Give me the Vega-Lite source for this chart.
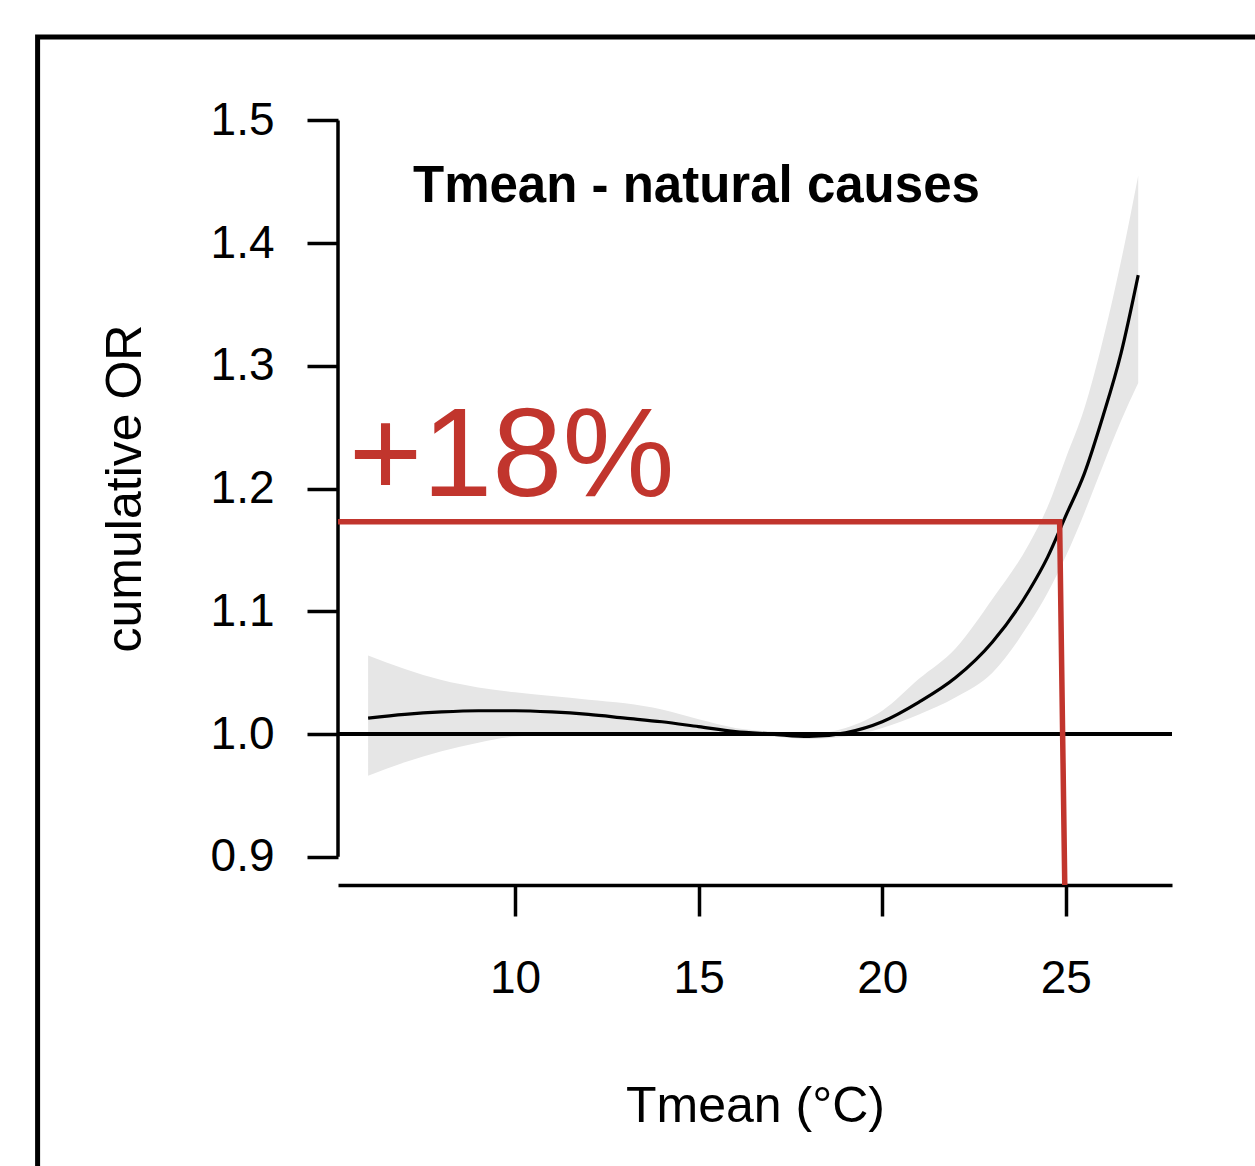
{
  "$schema": "https://vega.github.io/schema/vega-lite/v6.json",
  "width": 834,
  "height": 794,
  "autosize": "none",
  "padding": {"left": 338, "top": 91, "right": 83, "bottom": 281},
  "background": "white",
  "config": {"view": {"stroke": null}, "font": "Liberation Sans"},
  "datasets": {
    "curve": [
      {"x": 6.0, "est": 1.013, "lo": 0.966, "hi": 1.064},
      {"x": 7.0, "est": 1.016, "lo": 0.977, "hi": 1.053},
      {"x": 8.0, "est": 1.018, "lo": 0.986, "hi": 1.044},
      {"x": 9.0, "est": 1.019, "lo": 0.993, "hi": 1.038},
      {"x": 10.0, "est": 1.019, "lo": 0.998, "hi": 1.034},
      {"x": 11.0, "est": 1.018, "lo": 0.999, "hi": 1.031},
      {"x": 12.0, "est": 1.016, "lo": 1.0, "hi": 1.028},
      {"x": 13.0, "est": 1.013, "lo": 1.0, "hi": 1.025},
      {"x": 14.0, "est": 1.01, "lo": 1.0, "hi": 1.02},
      {"x": 15.0, "est": 1.006, "lo": 1.0, "hi": 1.012},
      {"x": 16.0, "est": 1.002, "lo": 0.999, "hi": 1.005},
      {"x": 17.0, "est": 1.0, "lo": 0.998, "hi": 1.002},
      {"x": 18.0, "est": 0.998, "lo": 0.996, "hi": 1.0},
      {"x": 19.0, "est": 1.001, "lo": 0.998, "hi": 1.005},
      {"x": 20.0, "est": 1.01, "lo": 1.005, "hi": 1.019},
      {"x": 21.0, "est": 1.026, "lo": 1.016, "hi": 1.045},
      {"x": 22.0, "est": 1.046, "lo": 1.03, "hi": 1.07},
      {"x": 23.0, "est": 1.075, "lo": 1.05, "hi": 1.11},
      {"x": 24.0, "est": 1.117, "lo": 1.09, "hi": 1.155},
      {"x": 24.5, "est": 1.144, "lo": 1.115, "hi": 1.185},
      {"x": 25.0, "est": 1.178, "lo": 1.145, "hi": 1.225},
      {"x": 25.5, "est": 1.212, "lo": 1.18, "hi": 1.265},
      {"x": 26.0, "est": 1.258, "lo": 1.218, "hi": 1.32},
      {"x": 26.5, "est": 1.31, "lo": 1.255, "hi": 1.385},
      {"x": 26.97, "est": 1.374, "lo": 1.286, "hi": 1.455}
    ],
    "redline": [
      {"x": 5.18, "y": 1.173, "o": 1},
      {"x": 24.83, "y": 1.173, "o": 2},
      {"x": 24.97, "y": 0.877, "o": 3}
    ],
    "yaxisline": [{"x": 5.18, "y": 0.9, "y2": 1.5}],
    "ref": [{"y": 1.0}],
    "frame": [{"x": -3.0, "x2": 40, "y": 1.568, "y2": 0.4}],
    "labels": [
      {"x": 5.47, "y": 1.194, "label": "+18%", "kind": "pct"},
      {"x": 14.94, "y": 1.4338, "label": "Tmean - natural causes", "kind": "title"}
    ]
  },
  "layer": [
    {
      "data": {"name": "curve"},
      "mark": {"type": "area", "color": "#e6e6e6", "opacity": 1, "interpolate": "monotone"},
      "encoding": {
        "x": {
          "field": "x", "type": "quantitative",
          "scale": {"domain": [5.18, 27.89], "nice": false, "zero": false},
          "axis": {
            "values": [10, 15, 20, 25], "grid": false,
            "domainColor": "black", "domainWidth": 3.5,
            "tickColor": "black", "tickWidth": 3.5, "tickSize": 31,
            "labelFontSize": 46, "labelColor": "black", "labelPadding": 40,
            "labelFont": "Liberation Sans",
            "title": "Tmean (°C)", "titleFontSize": 50, "titleFontWeight": "normal",
            "titleColor": "black", "titlePadding": 80, "titleFont": "Liberation Sans"
          }
        },
        "y": {
          "field": "lo", "type": "quantitative",
          "scale": {"domain": [0.877, 1.524], "nice": false, "zero": false},
          "axis": {
            "values": [0.9, 1.0, 1.1, 1.2, 1.3, 1.4, 1.5], "format": ".1f", "grid": false,
            "domain": false,
            "tickColor": "black", "tickWidth": 3.5, "tickSize": 31,
            "labelFontSize": 46, "labelColor": "black", "labelPadding": 33,
            "labelFont": "Liberation Sans",
            "title": "cumulative OR", "titleFontSize": 50, "titleFontWeight": "normal",
            "titleColor": "black", "titlePadding": 60, "titleFont": "Liberation Sans"
          }
        },
        "y2": {"field": "hi"}
      }
    },
    {
      "data": {"name": "ref"},
      "mark": {"type": "rule", "color": "black", "strokeWidth": 4},
      "encoding": {
        "y": {"field": "y", "type": "quantitative"}
      }
    },
    {
      "data": {"name": "curve"},
      "mark": {"type": "line", "color": "black", "strokeWidth": 3.2, "interpolate": "monotone"},
      "encoding": {
        "x": {"field": "x", "type": "quantitative"},
        "y": {"field": "est", "type": "quantitative"}
      }
    },
    {
      "data": {"name": "yaxisline"},
      "mark": {"type": "rule", "color": "black", "strokeWidth": 3.5},
      "encoding": {
        "x": {"field": "x", "type": "quantitative"},
        "y": {"field": "y", "type": "quantitative"},
        "y2": {"field": "y2"}
      }
    },
    {
      "data": {"name": "redline"},
      "mark": {"type": "line", "color": "#c1352d", "strokeWidth": 5.5, "clip": false},
      "encoding": {
        "x": {"field": "x", "type": "quantitative"},
        "y": {"field": "y", "type": "quantitative"},
        "order": {"field": "o"}
      }
    },
    {
      "data": {"name": "labels"},
      "transform": [{"filter": "datum.kind === 'pct'"}],
      "mark": {"type": "text", "color": "#c1352d", "fontSize": 126, "align": "left", "baseline": "alphabetic", "font": "Liberation Sans"},
      "encoding": {
        "x": {"field": "x", "type": "quantitative"},
        "y": {"field": "y", "type": "quantitative"},
        "text": {"field": "label"}
      }
    },
    {
      "data": {"name": "labels"},
      "transform": [{"filter": "datum.kind === 'title'"}],
      "mark": {"type": "text", "color": "black", "fontSize": 51, "fontWeight": "bold", "align": "center", "baseline": "alphabetic", "font": "Liberation Sans"},
      "encoding": {
        "x": {"field": "x", "type": "quantitative"},
        "y": {"field": "y", "type": "quantitative"},
        "text": {"field": "label"}
      }
    },
    {
      "data": {"name": "frame"},
      "mark": {"type": "rect", "fill": null, "fillOpacity": 0, "stroke": "black", "strokeWidth": 5, "clip": false},
      "encoding": {
        "x": {"field": "x", "type": "quantitative"},
        "x2": {"field": "x2"},
        "y": {"field": "y", "type": "quantitative"},
        "y2": {"field": "y2"}
      }
    }
  ]
}
